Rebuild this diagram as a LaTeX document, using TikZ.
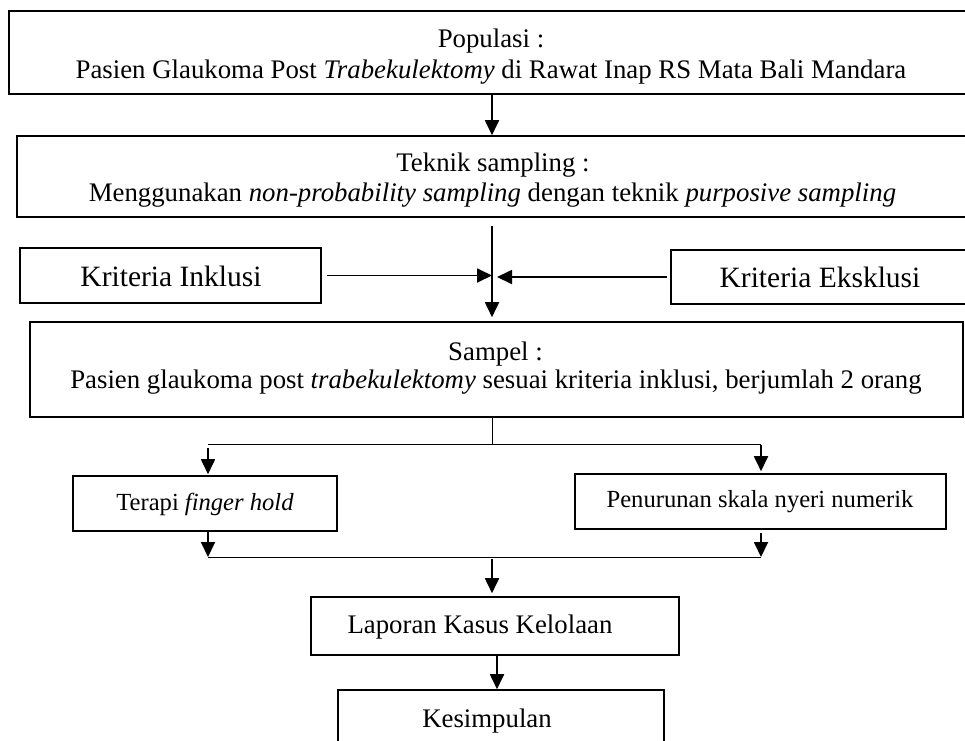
\documentclass[tikz,border=0pt]{standalone}
\usepackage{fontspec}
\setmainfont{Liberation Serif}
\usetikzlibrary{arrows.meta}
\tikzset{
  box/.style={draw, line width=1.6pt, rectangle, inner sep=0pt},
  txt/.style={inner sep=0pt, anchor=base, font=\fontsize{26.8}{30}\selectfont},
  bigtxt/.style={inner sep=0pt, anchor=base, font=\fontsize{29.5}{34}\selectfont},
  smalltxt/.style={inner sep=0pt, anchor=base, font=\fontsize{24.6}{28}\selectfont},
  arr/.style={line width=1.8pt, -{Triangle[length=15pt,width=14pt]}},
  thinline/.style={line width=1pt},
}
\begin{document}
\begin{tikzpicture}[x=1pt,y=-1pt]
\useasboundingbox (0,0) rectangle (965,740);
\clip (0,0) rectangle (965,740);
% boxes
\node[box, minimum width=966pt, minimum height=83pt] (pop) at (492,52.5) {};
\node[box, minimum width=958pt, minimum height=81pt] (tek) at (496,176.5) {};
\node[box, minimum width=301pt, minimum height=55pt] (ink) at (170.5,275.5) {};
\node[box, minimum width=304pt, minimum height=54pt] (eks) at (823,277) {};
\node[box, minimum width=933pt, minimum height=95pt] (samp) at (496.5,369.5) {};
\node[box, minimum width=264pt, minimum height=55pt] (ter) at (205,503.5) {};
\node[box, minimum width=371pt, minimum height=55pt] (pen) at (760.5,501.5) {};
\node[box, minimum width=368pt, minimum height=58pt] (lap) at (495,626) {};
\node[box, minimum width=326pt, minimum height=70pt] (kes) at (501,725) {};
% texts
\node[txt] (popa) at (491,47.7) {Populasi :};
\node[txt] (popb) at (491,78) {Pasien Glaukoma Post \textit{Trabekulektomy} di Rawat Inap RS Mata Bali Mandara};
\node[txt] (teka) at (493,171.7) {Teknik sampling :};
\node[txt] (tekb) at (492.5,201.7) {Menggunakan \textit{non-probability sampling} dengan teknik \textit{purposive sampling}};
\node[bigtxt] (inkt) at (171,286.7) {Kriteria Inklusi};
\node[bigtxt] (ekst) at (820,287) {Kriteria Eksklusi};
\node[txt] (sampa) at (495.5,360) {Sampel :};
\node[txt] (sampb) at (496,388) {Pasien glaukoma post \textit{trabekulektomy} sesuai kriteria inklusi, berjumlah 2 orang};
\node[smalltxt] (tert) at (205,510) {Terapi \textit{finger hold}};
\node[smalltxt] (pent) at (760,507) {Penurunan skala nyeri numerik};
\node[txt] (lapt) at (480,633) {Laporan Kasus Kelolaan};
\node[txt] (kest) at (487,727) {Kesimpulan};
% coordinates
\coordinate (j) at (492,276);
\coordinate (t1) at (492,226);
\coordinate (s1) at (492,444);
\coordinate (bl) at (208,444);
\coordinate (br) at (761,444);
\coordinate (bl2) at (208,448);
\coordinate (br2) at (761,445);
\coordinate (tl) at (208,532);
\coordinate (tr) at (761,533);
\coordinate (cl) at (208,557);
\coordinate (cr) at (761,557);
\coordinate (c1) at (492,559);
\coordinate (kx) at (497,0);
% connectors
\draw[arr] (pop.south) -- (pop.south |- tek.north);
\draw[arr, shorten >=4pt] (t1) -- (j |- samp.north);
\draw[arr] ([xshift=5pt]ink.east) -- (ink.east -| j);
\draw[arr, shorten >=5pt] ([xshift=-3pt]eks.west) -- (eks.west -| j);
\draw[thinline] (samp.south -| s1) -- (s1);
\draw[thinline] (bl) -- (br);
\draw[arr, shorten >=1pt] (bl2) -- (bl |- ter.north);
\draw[arr, shorten >=2pt] (br2) -- (br |- pen.north);
\draw[arr] (tl) -- (cl);
\draw[arr] (tr) -- (cr);
\draw[thinline] (cl) -- (cr);
\draw[arr, shorten >=3pt] (c1) -- (c1 |- lap.north);
\draw[arr] (lap.south -| kx) -- (kes.north -| kx);
\end{tikzpicture}
\end{document}
